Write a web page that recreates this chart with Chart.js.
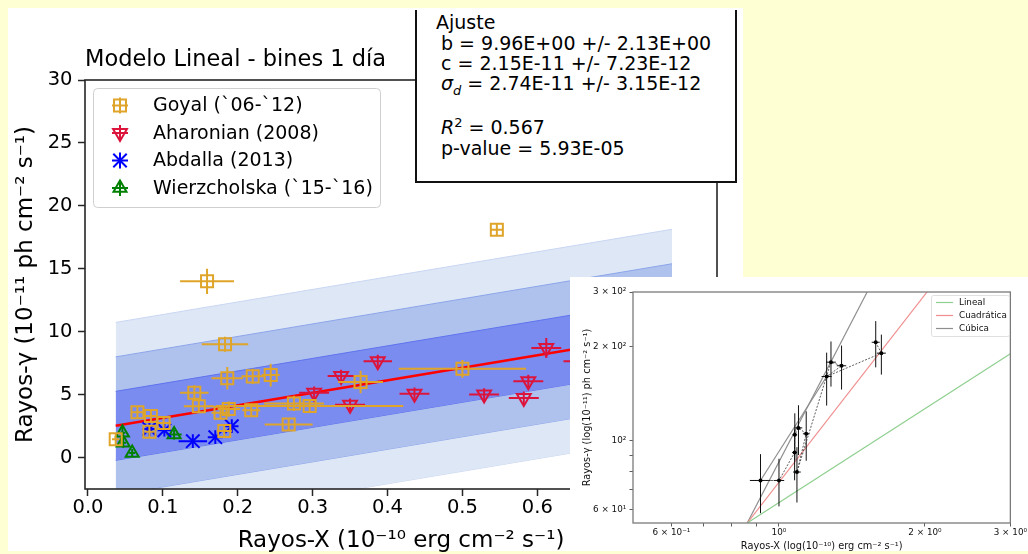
<!DOCTYPE html>
<html>
<head>
<meta charset="utf-8">
<script src="https://cdn.jsdelivr.net/npm/chart.js@4.4.1/dist/chart.umd.min.js"></script>
<style>
  html, body { margin:0; padding:0; width:1028px; height:554px; overflow:hidden; background:#ffffd4; }
  #panel { position:absolute; left:8px; top:8px; width:735px; height:543px; background:#fff; }
  #mainChart { position:absolute; left:8px; top:8px; }
  #ajuste { position:absolute; left:415px; top:10px; width:318px; height:171px; background:#fff;
            border-left:2px solid #111; border-right:2px solid #111; border-bottom:2px solid #111;
            font-family:"DejaVu Sans", sans-serif; font-size:19px; color:#000; }
  #ajuste div { position:absolute; white-space:pre; line-height:20px; height:20px; }
  #ajuste sub, #ajuste sup { font-size:13px; line-height:0; }
  #insetPanel { position:absolute; left:570px; top:277px; width:458px; height:274px; background:#fff; }
  #insetChart { position:absolute; left:570px; top:277px; }
</style>
</head>
<body>
<div id="panel"></div>
<canvas id="mainChart" width="735" height="546"></canvas>
<div id="ajuste">
  <div style="left:19px; top:2px;">Ajuste</div>
  <div style="left:24px; top:23px;">b = 9.96E+00 +/- 2.13E+00</div>
  <div style="left:24px; top:43px;">c = 2.15E-11 +/- 7.23E-12</div>
  <div style="left:24px; top:63px;"><i>σ<sub>d</sub></i> = 2.74E-11 +/- 3.15E-12</div>
  <div style="left:24px; top:107px;"><i>R</i><sup>2</sup> = 0.567</div>
  <div style="left:24px; top:127.5px;">p-value = 5.93E-05</div>
</div>
<div id="insetPanel"></div>
<canvas id="insetChart" width="458" height="277"></canvas>

<script>
const FONT = '"DejaVu Sans", sans-serif';

// ---- Linear-model panel (gamma-ray vs X-ray flux, 1-day bins) ----
const goyalX    = [0.037, 0.066, 0.084, 0.082, 0.101, 0.142, 0.148, 0.159, 0.183, 0.186, 0.177, 0.188, 0.182, 0.220, 0.244, 0.218, 0.275, 0.296, 0.268, 0.364, 0.500, 0.546];
const goyalY    = [1.45, 3.60, 3.30, 2.05, 2.75, 5.15, 4.08, 14.0, 9.00, 6.30, 3.55, 3.85, 2.10, 6.45, 6.55, 3.75, 4.30, 4.10, 2.63, 6.00, 7.05, 18.1];
const goyalXErr = [0.005, 0.008, 0.008, 0.006, 0.010, 0.019, 0.020, 0.036, 0.031, 0.021, 0.012, 0.015, 0.010, 0.015, 0.012, 0.012, 0.040, 0.125, 0.032, 0.030, 0.085, 0.008];
const goyalYErr = [0.5, 0.5, 0.5, 0.5, 0.5, 0.6, 0.5, 1.0, 0.6, 0.9, 0.5, 0.6, 0.5, 0.6, 0.9, 0.5, 0.6, 0.5, 0.5, 0.9, 0.7, 0.5];

const aharX    = [0.302, 0.338, 0.350, 0.387, 0.436, 0.529, 0.582, 0.588, 0.612, 0.655];
const aharY    = [5.14, 6.47, 4.20, 7.66, 5.06, 5.00, 4.74, 6.07, 8.70, 7.65];
const aharXErr = [0.020, 0.018, 0.020, 0.019, 0.020, 0.020, 0.020, 0.020, 0.020, 0.020];
const aharYErr = [0.5, 0.5, 0.5, 0.5, 0.5, 0.5, 0.5, 0.5, 0.8, 0.5];

const abdX    = [0.082, 0.102, 0.140, 0.170, 0.192];
const abdY    = [2.27, 2.17, 1.30, 1.62, 2.49];
const abdXErr = [0.009, 0.009, 0.019, 0.010, 0.009];
const abdYErr = [0.55, 0.50, 0.55, 0.55, 0.55];

const wierX    = [0.046, 0.047, 0.059, 0.115];
const wierY    = [1.96, 1.17, 0.37, 1.83];
const wierXErr = [0.004, 0.004, 0.004, 0.010];
const wierYErr = [0.5, 0.4, 0.3, 0.4];

// fitted model  y = c + b x  (units of 1e-11) and its scatter sigma_d
const fitB = 9.96, fitC = 2.15, sigmaD = 2.74;
const fitX = [0.037, 0.78];

const mainXTicks = [0.0, 0.1, 0.2, 0.3, 0.4, 0.5, 0.6, 0.7, 0.8];
const mainYTicks = [0, 5, 10, 15, 20, 25, 30];

// ---- log-log inset ----
const insetX    = [0.916, 1.000, 1.077, 1.078, 1.097, 1.138, 1.089, 1.280, 1.346, 1.254, 1.626, 1.583];
const insetY    = [74.6, 74.6, 91.7, 104.5, 110.0, 105.3, 79.4, 178.7, 174.0, 160.7, 191.0, 207.0];
const insetXErr = [0.045, 0.025, 0.012, 0.012, 0.020, 0.018, 0.020, 0.030, 0.030, 0.030, 0.035, 0.030];
const insetYErr = [16, 13, 17, 18, 20, 19, 16, 29.5, 28, 31, 28, 35];

const linealX = [0.86, 3.0],  linealY = [54.5, 190];
const cuadX   = [0.86, 2.02], cuadY   = [54.5, 300];
const cubX    = [0.86, 1.52], cubY    = [54.5, 300];
const cubSegX = [0.916, 1.254], cubSegY = [74.6, 160.7];

const insetXTickValues = [0.6, 0.7, 0.8, 0.9, 1, 2, 3];
const insetXTickLabels = ['6 × 10⁻¹', '', '', '', '10⁰', '2 × 10⁰', '3 × 10⁰'];
const insetYTickValues = [60, 70, 80, 90, 100, 200, 300];
const insetYTickLabels = ['6 × 10¹', '', '', '', '10²', '2 × 10²', '3 × 10²'];

// ---- helpers ----
const pts  = (xs, ys) => xs.map((x, i) => ({ x, y: ys[i] }));
const errs = (xe, ye) => xe.map((e, i) => ({ x: e, y: ye[i] }));
const fitY = fitX.map(x => fitC + fitB * x);
const bandPts = k => fitX.map((x, i) => ({ x, y: fitY[i] + k * sigmaD }));

function drawMarker(ctx, style, x, y, r, rot) {
  ctx.beginPath();
  if (style === 'rect') {
    const s = r * Math.SQRT1_2;
    ctx.rect(x - s, y - s, 2 * s, 2 * s);
  } else if (style === 'triangle') {
    let a = (rot || 0) * Math.PI / 180;
    for (let k = 0; k < 3; k++) {
      const px = x + Math.sin(a) * r, py = y - Math.cos(a) * r;
      k ? ctx.lineTo(px, py) : ctx.moveTo(px, py);
      a += 2 * Math.PI / 3;
    }
    ctx.closePath();
  } else if (style === 'crossRot') {
    const o = r * Math.SQRT1_2;
    ctx.moveTo(x - o, y - o); ctx.lineTo(x + o, y + o);
    ctx.moveTo(x - o, y + o); ctx.lineTo(x + o, y - o);
  }
  ctx.stroke();
}

// error bars drawn just before the markers of each dataset
const errorBars = {
  id: 'errorBars',
  beforeDatasetDraw(chart, args) {
    const ds = chart.data.datasets[args.index];
    if (!ds.errors) return;
    const xs = chart.scales.x, ys = chart.scales.y, ctx = chart.ctx, a = chart.chartArea;
    ctx.save();
    ctx.beginPath();
    ctx.rect(a.left, a.top, a.right - a.left, a.bottom - a.top);
    ctx.clip();
    ctx.strokeStyle = ds.errorColor;
    ctx.lineWidth = ds.errorWidth;
    ctx.beginPath();
    ds.data.forEach((p, i) => {
      const e = ds.errors[i];
      const px = xs.getPixelForValue(p.x), py = ys.getPixelForValue(p.y);
      ctx.moveTo(xs.getPixelForValue(p.x - e.x), py);
      ctx.lineTo(xs.getPixelForValue(p.x + e.x), py);
      ctx.moveTo(px, ys.getPixelForValue(p.y - e.y));
      ctx.lineTo(px, ys.getPixelForValue(p.y + e.y));
    });
    ctx.stroke();
    ctx.restore();
  }
};

// axes frame + legend box for the linear-model panel
const mainFrameLegend = {
  id: 'mainFrameLegend',
  afterDraw(chart) {
    const ctx = chart.ctx, a = chart.chartArea;
    ctx.save();
    ctx.strokeStyle = '#262626';
    ctx.lineWidth = 1.6;
    ctx.strokeRect(a.left, a.top, a.right - a.left, a.bottom - a.top);

    ctx.beginPath();
    ctx.roundRect(85.5, 80.5, 287, 119, 4);
    ctx.fillStyle = 'rgba(255,255,255,0.85)';
    ctx.fill();
    ctx.strokeStyle = '#cfcfcf';
    ctx.lineWidth = 1;
    ctx.stroke();

    const rows = [97.5, 125, 152.5, 180];
    chart.data.datasets.filter(d => d.inLegend).forEach((d, i) => {
      const cx = 112, cy = rows[i];
      ctx.strokeStyle = d.errorColor;
      ctx.lineWidth = d.errorWidth;
      ctx.beginPath();
      ctx.moveTo(cx - 8, cy); ctx.lineTo(cx + 8, cy);
      ctx.moveTo(cx, cy - 8); ctx.lineTo(cx, cy + 8);
      ctx.stroke();
      ctx.strokeStyle = d.pointBorderColor;
      ctx.lineWidth = d.pointBorderWidth;
      drawMarker(ctx, d.pointStyle, cx, cy, d.pointRadius, d.pointRotation);
      ctx.fillStyle = '#000';
      ctx.font = '19px ' + FONT;
      ctx.textBaseline = 'middle';
      ctx.textAlign = 'left';
      ctx.fillText(d.label, 145, cy + 1);
    });
    ctx.restore();
  }
};

const scatterSet = (label, xs, ys, xe, ye, color, style, radius, rot) => ({
  label, data: pts(xs, ys), errors: errs(xe, ye),
  errorColor: color, errorWidth: 2, inLegend: true,
  showLine: false, pointStyle: style, pointRadius: radius, pointHoverRadius: radius,
  pointRotation: rot || 0, pointBorderWidth: 2, pointBorderColor: color,
  pointBackgroundColor: 'rgba(0,0,0,0)', order: 0
});

const bandSet = (k, fillColor, edgeColor, order, fillTo) => ({
  label: 'band' + k, data: bandPts(k), showLine: true, pointRadius: 0,
  borderColor: edgeColor, borderWidth: 1, backgroundColor: fillColor,
  fill: fillTo, order
});

new Chart(document.getElementById('mainChart'), {
  type: 'scatter',
  data: {
    datasets: [
      scatterSet('Goyal (`06-`12)', goyalX, goyalY, goyalXErr, goyalYErr, '#dfa52a', 'rect', 8.5),
      scatterSet('Aharonian (2008)', aharX, aharY, aharXErr, aharYErr, '#dc143c', 'triangle', 8, 180),
      scatterSet('Abdalla (2013)', abdX, abdY, abdXErr, abdYErr, '#0000ff', 'crossRot', 9.5),
      scatterSet('Wierzcholska (`15-`16)', wierX, wierY, wierXErr, wierYErr, '#008000', 'triangle', 7.5),
      { label: 'Ajuste', data: pts(fitX, fitY), showLine: true, pointRadius: 0,
        borderColor: '#ff0000', borderWidth: 2.5, fill: false, order: 1 },
      bandSet(1,  'rgb(123,140,240)', 'rgb(95,115,238)', 2, '+1'),
      bandSet(-1, 'rgb(123,140,240)', 'rgb(95,115,238)', 2, false),
      bandSet(2,  'rgb(175,194,237)', 'rgb(140,165,235)', 3, '+1'),
      bandSet(-2, 'rgb(175,194,237)', 'rgb(140,165,235)', 3, false),
      bandSet(3,  'rgb(222,231,245)', 'rgb(200,214,242)', 4, '+1'),
      bandSet(-3, 'rgb(222,231,245)', 'rgb(200,214,242)', 4, false)
    ]
  },
  options: {
    responsive: false,
    animation: false,
    devicePixelRatio: 1,
    layout: { padding: { left: 0, top: 0, right: 26, bottom: 0 } },
    plugins: {
      legend: { display: false },
      tooltip: { enabled: false },
      title: {
        display: true, text: 'Modelo Lineal - bines 1 día', align: 'start', fullSize: false,
        color: '#000', font: { family: FONT, size: 22.5, weight: 'normal', lineHeight: 1.2 },
        padding: { top: 38.5, bottom: 6.5 }
      }
    },
    scales: {
      x: {
        type: 'linear', min: -0.004, max: 0.84,
        afterBuildTicks: s => { s.ticks = mainXTicks.map(v => ({ value: v })); },
        afterFit: s => { s.height = 65; },
        border: { display: false },
        grid: { drawOnChartArea: false, drawTicks: true, tickLength: 7, tickWidth: 1.5, tickColor: '#262626' },
        ticks: { color: '#000', font: { family: FONT, size: 19.5 }, padding: 0, autoSkip: false, maxRotation: 0,
                 callback: v => Number(v).toFixed(1) },
        title: { display: true, text: 'Rayos-X (10⁻¹⁰ erg cm⁻² s⁻¹)', color: '#000',
                 font: { family: FONT, size: 23, lineHeight: 1.13 }, padding: { top: 0, bottom: 0 } }
      },
      y: {
        type: 'linear', min: -2.5, max: 30,
        afterBuildTicks: s => { s.ticks = mainYTicks.map(v => ({ value: v })); },
        afterFit: s => { s.width = 77; },
        border: { display: false },
        grid: { drawOnChartArea: false, drawTicks: true, tickLength: 7, tickWidth: 1.5, tickColor: '#262626' },
        ticks: { color: '#000', font: { family: FONT, size: 19.5 }, padding: 5.5, autoSkip: false,
                 callback: v => String(v) },
        title: { display: true, text: 'Rayos-γ (10⁻¹¹ ph cm⁻² s⁻¹)', color: '#000',
                 font: { family: FONT, size: 23, lineHeight: 1.2 }, padding: { top: 4.2, bottom: 0 } }
      }
    }
  },
  plugins: [errorBars, mainFrameLegend]
});

// frame + legend for the log-log inset
const insetFrameLegend = {
  id: 'insetFrameLegend',
  afterDraw(chart) {
    const ctx = chart.ctx, a = chart.chartArea;
    ctx.save();
    ctx.strokeStyle = '#7a7a7a';
    ctx.lineWidth = 1.3;
    ctx.strokeRect(a.left, a.top, a.right - a.left, a.bottom - a.top);

    ctx.beginPath();
    ctx.roundRect(361.5, 18.5, 78, 41, 2);
    ctx.fillStyle = 'rgba(255,255,255,0.85)';
    ctx.fill();
    ctx.strokeStyle = '#d8d8d8';
    ctx.lineWidth = 0.8;
    ctx.stroke();

    const rows = [25.5, 38.5, 51.5];
    chart.data.datasets.filter(d => d.inLegend).forEach((d, i) => {
      const y = rows[i];
      ctx.strokeStyle = d.borderColor;
      ctx.lineWidth = 1.2;
      ctx.beginPath(); ctx.moveTo(366, y); ctx.lineTo(383, y); ctx.stroke();
      ctx.fillStyle = '#111';
      ctx.font = '8.8px ' + FONT;
      ctx.textBaseline = 'middle';
      ctx.textAlign = 'left';
      ctx.fillText(d.label, 389, y);
    });
    ctx.restore();
  }
};

new Chart(document.getElementById('insetChart'), {
  type: 'scatter',
  data: {
    datasets: [
      { label: 'datos', data: pts(insetX, insetY), errors: errs(insetXErr, insetYErr),
        errorColor: '#111', errorWidth: 1, showLine: true, borderColor: '#333', borderWidth: 0.8,
        borderDash: [2, 1.5], pointRadius: 2, pointBackgroundColor: '#000', pointBorderColor: '#000',
        pointBorderWidth: 0, order: 0 },
      { label: 'Lineal', data: pts(linealX, linealY), showLine: true, pointRadius: 0,
        borderColor: '#8fcf8f', borderWidth: 1.2, inLegend: true, order: 1 },
      { label: 'Cuadrática', data: pts(cuadX, cuadY), showLine: true, pointRadius: 0,
        borderColor: '#f08c8c', borderWidth: 1.2, inLegend: true, order: 1 },
      { label: 'Cúbica', data: pts(cubX, cubY), showLine: true, pointRadius: 0,
        borderColor: '#8e8e8e', borderWidth: 1.2, inLegend: true, order: 1 },
      { label: 'Cúbica (tramo)', data: pts(cubSegX, cubSegY), showLine: true, pointRadius: 0,
        borderColor: '#8e8e8e', borderWidth: 1.2, order: 1 }
    ]
  },
  options: {
    responsive: false,
    animation: false,
    devicePixelRatio: 1,
    layout: { padding: { left: 0, top: 15, right: 15, bottom: 0 } },
    plugins: { legend: { display: false }, tooltip: { enabled: false } },
    scales: {
      x: {
        type: 'logarithmic', min: 0.5, max: 3,
        afterBuildTicks: s => { s.ticks = insetXTickValues.map(v => ({ value: v })); },
        afterFit: s => { s.height = 31; },
        border: { display: false },
        grid: { drawOnChartArea: false, drawTicks: true, tickLength: 3.5, tickWidth: 0.8, tickColor: '#333' },
        ticks: { color: '#111', font: { family: FONT, size: 8.8 }, padding: 1, autoSkip: false, maxRotation: 0,
                 callback: (v, i) => insetXTickLabels[i] },
        title: { display: true, text: 'Rayos-X (log(10⁻¹⁰) erg cm⁻² s⁻¹)', color: '#111',
                 font: { family: FONT, size: 9.8, lineHeight: 1.2 }, padding: { top: 0, bottom: 1.3 } }
      },
      y: {
        type: 'logarithmic', min: 54.5, max: 300,
        afterBuildTicks: s => { s.ticks = insetYTickValues.map(v => ({ value: v })); },
        afterFit: s => { s.width = 63; },
        border: { display: false },
        grid: { drawOnChartArea: false, drawTicks: true, tickLength: 3.5, tickWidth: 0.8, tickColor: '#333' },
        ticks: { color: '#111', font: { family: FONT, size: 8.8 }, padding: 3.2, autoSkip: false,
                 callback: (v, i) => insetYTickLabels[i] },
        title: { display: true, text: 'Rayos-γ (log(10⁻¹¹) ph cm⁻² s⁻¹)', color: '#111',
                 font: { family: FONT, size: 9.8, lineHeight: 1.2 }, padding: { top: 12, bottom: 0 } }
      }
    }
  },
  plugins: [errorBars, insetFrameLegend]
});
</script>
</body>
</html>
